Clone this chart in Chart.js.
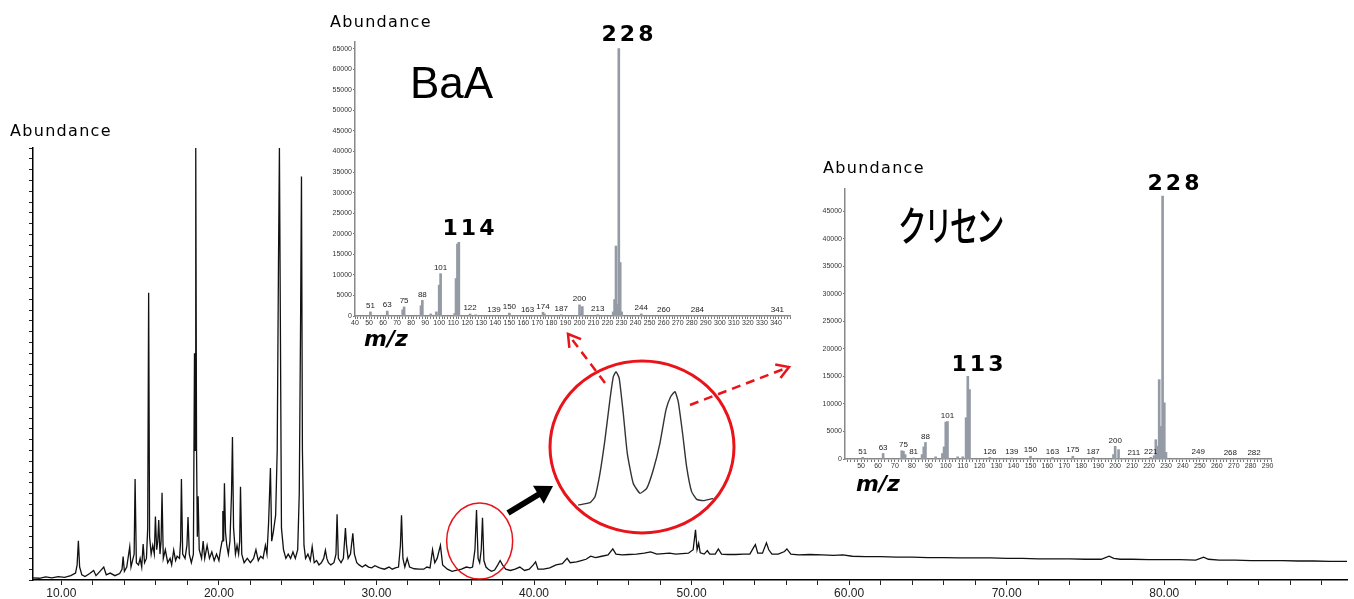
<!DOCTYPE html>
<html>
<head>
<meta charset="utf-8">
<script src="https://cdn.jsdelivr.net/npm/chart.js@4.4.1/dist/chart.umd.min.js"></script>
<style>
  html, body { margin: 0; padding: 0; background: #fff; }
  #wrap { position: relative; width: 1354px; height: 599px; overflow: hidden; }
  canvas { position: absolute; }
  .t { position: absolute; white-space: nowrap; line-height: 1; color: #000; }
  .abund { font-family: "DejaVu Sans", sans-serif; font-size: 16px; letter-spacing: 1.3px; }
  .big { font-family: "DejaVu Sans", sans-serif; font-weight: bold; font-size: 22px; letter-spacing: 3px; text-align: center; width: 80px; }
  .mz { font-family: "DejaVu Sans", sans-serif; font-weight: bold; font-style: italic; font-size: 22px; }
</style>
</head>
<body>
<div id="wrap">
  <canvas id="tic" width="1354" height="599" style="left:0;top:0"></canvas>
  <canvas id="baa" width="480" height="332" style="left:320px;top:0"></canvas>
  <canvas id="chr" width="480" height="330" style="left:800px;top:150px"></canvas>
  <canvas id="zoomTrace" width="150" height="160" style="left:570px;top:355px"></canvas>

  <div class="t abund" style="left:10px;top:123px">Abundance</div>
  <div class="t abund" style="left:330px;top:14px">Abundance</div>
  <div class="t abund" style="left:823px;top:160px">Abundance</div>

  <div class="t" style="left:410px;top:61px;font-family:'Liberation Sans',Arial,sans-serif;font-size:44px">BaA</div>
  <div class="t" style="left:898px;top:203px;font-family:'Noto Sans CJK JP',sans-serif;font-size:41px;font-weight:500;letter-spacing:-4px;transform:scaleX(0.7);transform-origin:0 0">クリセン</div>

  <div class="t big" style="left:589px;top:23px">228</div>
  <div class="t big" style="left:430px;top:217px">114</div>
  <div class="t big" style="left:939px;top:353px">113</div>
  <div class="t big" style="left:1135px;top:172px">228</div>

  <div class="t mz" style="left:364px;top:328px">m/z</div>
  <div class="t mz" style="left:856px;top:473px">m/z</div>
</div>

<script>
// total ion chromatogram: retention time (min) and relative abundance
const rtMin = [
  8.2, 8.6, 9.0, 9.4, 9.8, 10.2, 10.6, 10.9, 11.0, 11.08, 11.16, 11.3, 11.5, 11.8, 12.05, 12.2, 12.45, 12.69, 12.85, 13.1, 13.4, 13.7,
  13.85, 13.92, 14.0, 14.15, 14.34, 14.42, 14.55, 14.62, 14.68, 14.76, 14.9, 15.0, 15.1, 15.19, 15.28, 15.4, 15.48, 15.54, 15.6, 15.7, 15.8, 15.9, 15.97,
  16.05, 16.12, 16.18, 16.26, 16.33, 16.39, 16.47, 16.6, 16.75, 16.9, 17.0, 17.13, 17.25, 17.35, 17.5, 17.57, 17.62, 17.7, 17.85, 17.97,
  18.04, 18.12, 18.25, 18.38, 18.45, 18.49, 18.53, 18.58, 18.63, 18.68, 18.75, 18.9, 19.0, 19.1, 19.25, 19.4, 19.55, 19.7, 19.85, 20.0,
  20.1, 20.2, 20.25, 20.3, 20.35, 20.42, 20.5, 20.6, 20.7, 20.8, 20.86, 20.93, 21.05, 21.15, 21.25, 21.32, 21.37, 21.45, 21.6, 21.8, 22.0,
  22.2, 22.35, 22.5, 22.65, 22.8, 22.95, 23.05, 23.15, 23.27, 23.35, 23.45, 23.6, 23.7, 23.78, 23.84, 23.9, 23.97, 24.1,
  24.25, 24.4, 24.55, 24.7, 24.85, 25.0, 25.1, 25.18, 25.24, 25.3, 25.4, 25.5, 25.65, 25.8, 25.92,
  26.05, 26.2, 26.35, 26.5, 26.65, 26.76, 26.85, 26.95, 27.1, 27.3, 27.43, 27.5, 27.58, 27.75, 27.9, 28.03, 28.1, 28.2, 28.35, 28.5, 28.6, 28.75, 28.9, 29.1, 29.3, 29.5, 29.7, 29.9,
  30.2, 30.5, 30.8, 31.0, 31.2, 31.4, 31.52, 31.59, 31.68, 31.8, 31.95, 32.1, 32.4, 32.7, 33.0, 33.2, 33.4, 33.56, 33.7, 33.85, 34.06, 34.2, 34.5, 34.8, 35.1, 35.4, 35.7, 35.95,
  36.1, 36.25, 36.35, 36.45, 36.55, 36.65, 36.73, 36.82, 36.95, 37.1, 37.3, 37.5, 37.7, 37.85, 38.0, 38.2, 38.5, 38.8, 39.1, 39.4, 39.7, 39.95,
  40.1, 40.25, 40.6, 41.0, 41.4, 41.8, 42.1, 42.3, 42.7, 43.0, 43.3, 43.6, 43.9, 44.3, 44.7, 45.0, 45.2, 45.6, 46.0, 46.5, 47.0, 47.4, 47.8, 48.2, 48.6, 49.0, 49.4, 49.8,
  50.1, 50.25, 50.35, 50.45, 50.55, 50.8, 51.0, 51.15, 51.5, 51.7, 51.9, 52.3, 52.8, 53.3, 53.7, 53.95, 54.05, 54.2, 54.5, 54.75, 54.9, 55.1, 55.5, 55.9, 56.05, 56.3, 56.8, 57.5, 58.3, 59.0, 59.6,
  60.2, 61.0, 62.0, 63.0, 64.0, 65.0, 66.0, 67.0, 68.0, 69.0, 70.0, 71.0, 72.0, 73.0, 74.0, 75.0, 76.0, 76.5, 76.8, 77.2, 78.0, 79.0, 80.0, 81.0, 82.0, 82.5, 82.8, 83.5, 84.5, 85.5, 86.5, 87.5, 88.5, 89.5, 90.5, 91.6
];
const ticSignal = [
  0.5, 0.4, 0.7, 0.5, 0.8, 0.6, 1.0, 1.6, 3.5, 9.1, 3.0, 1.2, 0.8, 1.5, 2.2, 1.0, 2.0, 3.0, 1.2, 1.6, 1.0, 1.5,
  2.5, 5.4, 2.0, 3.0, 7.7, 3.0, 5.0, 6.0, 23.4, 4.0, 3.5, 5.0, 3.0, 8.3, 4.0, 5.0, 12.0, 66.5, 10.0, 6.0, 8.0, 6.0, 14.7,
  7.0, 9.0, 13.9, 6.0, 9.0, 20.2, 5.0, 7.0, 4.0, 5.0, 3.5, 6.9, 4.5, 5.5, 5.0, 9.0, 23.4, 6.0, 5.0, 8.0,
  14.6, 6.0, 4.0, 6.0, 52.5, 30.0, 100, 30.0, 10.0, 19.4, 7.0, 5.0, 9.0, 5.0, 8.0, 5.0, 6.5, 4.5, 6.0, 4.5,
  7.0, 9.0, 16.0, 9.0, 22.4, 11.0, 8.0, 6.0, 9.0, 20.0, 33.1, 12.0, 6.0, 8.0, 6.0, 9.0, 21.6, 6.0, 4.0, 5.0, 4.0,
  5.0, 7.0, 4.5, 5.5, 5.0, 8.0, 6.0, 13.0, 25.9, 9.0, 11.0, 15.0, 30.0, 73.0, 100, 60.0, 12.0, 7.0,
  5.0, 6.0, 5.0, 6.5, 5.0, 7.0, 20.0, 58.0, 93.4, 30.0, 8.0, 5.0, 6.0, 4.5, 7.7,
  4.0, 4.5, 3.5, 4.0, 5.0, 6.9, 5.0, 4.0, 3.5, 4.0, 6.0, 15.2, 5.0, 4.0, 5.0, 12.0, 8.0, 5.0, 6.0, 10.8, 6.0, 4.0, 3.5, 3.0, 3.5, 3.0, 2.8, 3.3,
  2.8, 2.5, 3.0, 2.5, 2.8, 3.0, 8.0, 15.0, 5.0, 3.0, 5.0, 3.0, 2.6, 2.5, 2.5, 3.0, 2.8, 7.0, 4.0, 5.0, 8.0, 3.5, 2.5, 2.0, 2.3, 2.5, 3.0, 2.8,
  3.0, 7.0, 16.2, 5.0, 4.0, 7.0, 14.4, 4.5, 3.0, 2.5, 2.0, 2.3, 3.5, 4.5, 3.5, 2.5, 2.2, 2.5, 3.0, 2.2, 2.5, 3.5,
  4.2, 2.5, 2.5, 2.8, 3.5, 3.8, 5.0, 4.0, 4.2, 4.5, 4.8, 5.5, 5.2, 5.5, 5.8, 7.2, 6.0, 5.8, 5.9, 6.0, 6.2, 6.5, 6.0, 6.1, 6.2, 6.0, 6.1, 6.2,
  7.0, 11.6, 7.0, 8.5, 6.3, 6.0, 6.8, 6.0, 6.0, 7.2, 6.0, 5.9, 5.9, 6.0, 6.0, 7.6, 8.2, 6.2, 6.2, 8.6, 7.0, 6.0, 6.0, 6.6, 7.2, 6.0, 5.8, 5.9, 5.8, 5.7, 5.8,
  5.5, 5.4, 5.4, 5.3, 5.3, 5.2, 5.2, 5.1, 5.1, 5.1, 5.0, 5.0, 4.9, 4.9, 4.9, 4.8, 4.8, 5.5, 5.0, 4.8, 4.8, 4.7, 4.7, 4.7, 4.6, 5.3, 4.8, 4.6, 4.6, 4.5, 4.5, 4.5, 4.4, 4.4, 4.3, 4.3
];

// enlarged view of the BaA / chrysene pair (36-37 min)
const zoomTime = [36.107, 36.183, 36.215, 36.247, 36.279, 36.311, 36.333, 36.350, 36.371, 36.397, 36.423, 36.461, 36.505,
  36.548, 36.590, 36.633, 36.672, 36.702, 36.730, 36.751, 36.779, 36.805, 36.837, 36.870, 36.912, 36.977];
const zoomSignal = [3.0, 3.23, 3.82, 6.14, 9.44, 13.4, 15.7, 16.2, 15.54, 12.08, 8.12, 5.15, 4.16,
  4.65, 6.47, 9.11, 12.41, 13.72, 14.22, 13.23, 10.1, 6.79, 4.32, 3.56, 3.43, 3.66];

// mass spectrum of benz[a]anthracene
const baaMz    = [51, 63, 74, 75, 87, 88, 94, 98, 100, 101, 111, 112, 113, 114, 122, 126, 150, 174, 175, 187, 200, 201, 202, 213, 224, 225, 226, 227, 228, 229, 230, 244];
const baaAbund = [1000, 1200, 1500, 2200, 2500, 3800, 500, 1000, 7500, 10300, 600, 9100, 17500, 17900, 500, 300, 700, 900, 500, 300, 2700, 600, 2300, 300, 1000, 4000, 17000, 2800, 65000, 13000, 1000, 500];
const baaLabels = [51, 63, 75, 88, 101, 122, 139, 150, 163, 174, 187, 200, 213, 244, 260, 284, 341];

// mass spectrum of chrysene
const chrMz    = [51, 63, 74, 75, 76, 81, 86, 87, 88, 94, 98, 99, 100, 101, 107, 110, 112, 113, 114, 126, 139, 150, 163, 175, 187, 199, 200, 202, 221, 223, 224, 225, 226, 227, 228, 229, 230, 249];
const chrAbund = [300, 1000, 1500, 1400, 800, 200, 800, 2200, 3000, 400, 1000, 2200, 6700, 6800, 400, 400, 7500, 15000, 12600, 300, 200, 500, 300, 500, 300, 800, 2300, 1700, 300, 600, 3500, 2300, 14400, 5900, 47700, 10200, 1200, 200];
const chrLabels = [51, 63, 75, 81, 88, 101, 126, 139, 150, 163, 175, 187, 200, 211, 221, 249, 268, 282];

const RED = '#e8141a';

function arrowHead(ctx, x0, y0, x1, y1, len, open) {
  const a = Math.atan2(y1 - y0, x1 - x0);
  const p1 = [x1 - len * Math.cos(a - 0.55), y1 - len * Math.sin(a - 0.55)];
  const p2 = [x1 - len * Math.cos(a + 0.55), y1 - len * Math.sin(a + 0.55)];
  ctx.beginPath();
  ctx.moveTo(p1[0], p1[1]);
  ctx.lineTo(x1, y1);
  ctx.lineTo(p2[0], p2[1]);
  if (open) {
    ctx.setLineDash([]);
    ctx.stroke();
  } else {
    ctx.closePath();
    ctx.fill();
  }
}

// red ellipse round the peak pair, enlarged circle and arrows
const annotations = {
  id: 'annotations',
  afterDraw(chart) {
    const { ctx, scales: { x, y } } = chart;
    ctx.save();
    ctx.strokeStyle = RED;
    ctx.lineWidth = 1.5;
    ctx.beginPath();
    ctx.ellipse(x.getPixelForValue(36.55), y.getPixelForValue(9), 33, 38, 0, 0, Math.PI * 2);
    ctx.stroke();

    ctx.lineWidth = 3;
    ctx.beginPath();
    ctx.ellipse(642, 447, 92, 86, 0, 0, Math.PI * 2);
    ctx.stroke();

    // black arrow
    ctx.strokeStyle = '#000';
    ctx.fillStyle = '#000';
    ctx.lineWidth = 6;
    ctx.beginPath();
    ctx.moveTo(508, 513);
    ctx.lineTo(541, 493);
    ctx.stroke();
    arrowHead(ctx, 508, 513, 553, 486, 20, false);

    // dashed red arrows
    ctx.strokeStyle = RED;
    ctx.lineWidth = 2.5;
    [[605, 383, 568, 334], [690, 405, 789, 367]].forEach(([x0, y0, x1, y1]) => {
      ctx.setLineDash([9, 6]);
      ctx.beginPath();
      ctx.moveTo(x0, y0);
      ctx.lineTo(x1, y1);
      ctx.stroke();
      arrowHead(ctx, x0, y0, x1, y1, 14, true);
    });
    ctx.restore();
  }
};

function peakLabels(labelMz, mzArr, abArr) {
  return {
    id: 'peakLabels',
    afterDatasetsDraw(chart) {
      const { ctx, scales: { x, y } } = chart;
      ctx.save();
      ctx.font = '8px "Liberation Sans", Arial, sans-serif';
      ctx.fillStyle = '#222';
      ctx.textAlign = 'center';
      ctx.textBaseline = 'bottom';
      labelMz.forEach(mz => {
        const i = mzArr.indexOf(mz);
        const v = i >= 0 ? abArr[i] : 0;
        ctx.fillText(String(mz), x.getPixelForValue(mz), y.getPixelForValue(v) - 2);
      });
      ctx.restore();
    }
  };
}

function tickList(from, to, step) {
  const out = [];
  for (let v = from; v <= to; v += step) out.push({ value: v });
  return out;
}

// main chromatogram
new Chart(document.getElementById('tic'), {
  type: 'line',
  data: {
    datasets: [{
      data: rtMin.map((t, i) => ({ x: t, y: ticSignal[i] })),
      borderColor: '#111',
      borderWidth: 1.3,
      pointRadius: 0,
      tension: 0
    }]
  },
  options: {
    responsive: false,
    animation: false,
    layout: { padding: { left: 0, right: 7, top: 148, bottom: 0 } },
    plugins: { legend: { display: false }, tooltip: { enabled: false } },
    scales: {
      x: {
        type: 'linear', min: 8.2, max: 91.6,
        afterBuildTicks: s => { s.ticks = tickList(10, 90, 2); },
        afterFit: s => { s.height = 19; },
        ticks: {
          autoSkip: false, maxRotation: 0, padding: 1, color: '#222',
          font: { family: "'Liberation Sans Narrow', 'Liberation Sans', sans-serif", size: 12 },
          callback: v => (v % 10 === 0 && v <= 80) ? v.toFixed(2) : ''
        },
        grid: { drawOnChartArea: false, tickLength: 5, color: '#222' },
        border: { color: '#000', width: 1.5 }
      },
      y: {
        min: 0, max: 100,
        afterBuildTicks: s => { s.ticks = tickList(0, 100, 2.5); },
        afterFit: s => { s.width = 33; },
        ticks: { display: false },
        grid: { drawOnChartArea: false, tickLength: 4, color: '#222' },
        border: { color: '#000', width: 1.5 }
      }
    }
  },
  plugins: [annotations]
});

function spectrumChart(id, mz, ab, labels, cfg) {
  return new Chart(document.getElementById(id), {
    type: 'bar',
    data: {
      datasets: [{
        data: mz.map((m, i) => ({ x: m, y: ab[i] })),
        backgroundColor: '#959ba5',
        barThickness: 2
      }]
    },
    options: {
      responsive: false,
      animation: false,
      layout: { padding: { left: 0, right: cfg.padRight, top: cfg.padTop, bottom: 0 } },
      plugins: { legend: { display: false }, tooltip: { enabled: false } },
      scales: {
        x: {
          type: 'linear', min: cfg.xMin, max: cfg.xMax, offset: false,
          afterBuildTicks: s => { s.ticks = tickList(cfg.tickFrom, cfg.xMax, 2); },
          afterFit: s => { s.height = cfg.xHeight; },
          ticks: {
            autoSkip: false, maxRotation: 0, padding: 0, color: '#333',
            font: { family: "'Liberation Sans', Arial, sans-serif", size: 7 },
            callback: v => (v % 10 === 0 && v <= cfg.lastLabel) ? String(v) : ''
          },
          grid: { drawOnChartArea: false, tickLength: 3, color: '#777', offset: false },
          border: { color: '#888', width: 1.5 }
        },
        y: {
          min: 0, max: cfg.yMax,
          afterBuildTicks: s => { s.ticks = tickList(0, cfg.yMax, 5000); },
          afterFit: s => { s.width = cfg.yWidth; },
          ticks: {
            padding: 1, color: '#333',
            font: { family: "'Liberation Sans', Arial, sans-serif", size: 7 },
            callback: v => String(v)
          },
          grid: { drawOnChartArea: false, tickLength: 2, color: '#777' },
          border: { color: '#888', width: 1.5 }
        }
      }
    },
    plugins: [peakLabels(labels, mz, ab)]
  });
}

spectrumChart('baa', baaMz, baaAbund, baaLabels, {
  xMin: 40, xMax: 350, tickFrom: 40, lastLabel: 340, yMax: 66600,
  padTop: 42, padRight: 10, xHeight: 16, yWidth: 35
});
spectrumChart('chr', chrMz, chrAbund, chrLabels, {
  xMin: 40.5, xMax: 292, tickFrom: 42, lastLabel: 290, yMax: 49000,
  padTop: 39, padRight: 9, xHeight: 21, yWidth: 45
});

// enlarged peak pair inside the red circle
new Chart(document.getElementById('zoomTrace'), {
  type: 'line',
  data: {
    datasets: [{
      data: zoomTime.map((t, i) => ({ x: t, y: zoomSignal[i] })),
      borderColor: '#333',
      borderWidth: 1.4,
      pointRadius: 0,
      tension: 0.15
    }]
  },
  options: {
    responsive: false,
    animation: false,
    layout: { padding: 0 },
    plugins: { legend: { display: false }, tooltip: { enabled: false } },
    scales: {
      x: { type: 'linear', min: 36.054, max: 37.02, display: false },
      y: { min: 2.01, max: 17.85, display: false }
    }
  }
});
</script>
</body>
</html>
